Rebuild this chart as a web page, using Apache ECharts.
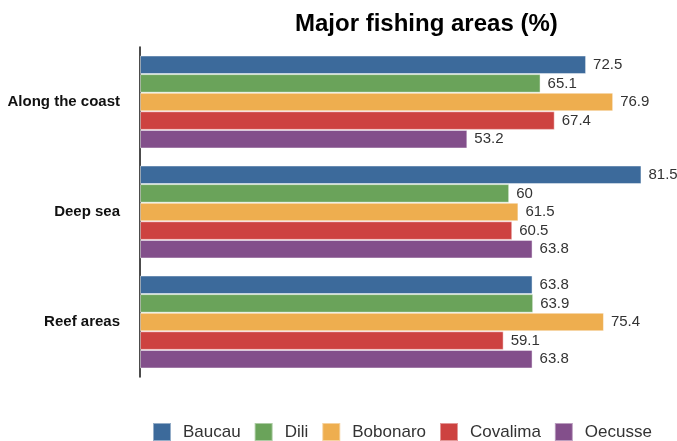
<!DOCTYPE html>
<html>
<head>
<meta charset="utf-8">
<style>
  html, body { margin: 0; padding: 0; background: #ffffff; }
  #chart { width: 677px; height: 441px; }
</style>
<script src="https://cdn.jsdelivr.net/npm/echarts@6/dist/echarts.min.js"></script>
</head>
<body>
<div id="chart"></div>
<script>
// Fishing areas, top to bottom
const categories = ['Along the coast', 'Deep sea', 'Reef areas'];

// Share of respondents (%) by district
const baucau   = [72.5, 81.5, 63.8];
const dili     = [65.1, 60,   63.9];
const bobonaro = [76.9, 61.5, 75.4];
const covalima = [67.4, 60.5, 59.1];
const oecusse  = [53.2, 63.8, 63.8];

const seriesNames  = ['Baucau', 'Dili', 'Bobonaro', 'Covalima', 'Oecusse'];
const seriesValues = [baucau, dili, bobonaro, covalima, oecusse];
const seriesColors = ['#3c6a9b', '#6aa35a', '#eeae4f', '#cd4240', '#834f8b'];

const FONT = '"Liberation Sans", Arial, Helvetica, sans-serif';

const chart = echarts.init(document.getElementById('chart'), null, { renderer: 'canvas' });

chart.setOption({
  backgroundColor: '#ffffff',
  animation: false,
  title: {
    text: 'Major fishing areas (%)',
    left: 290,
    top: 7,
    textStyle: { fontFamily: FONT, fontSize: 24, fontWeight: 'bold', color: '#000' }
  },
  legend: {
    data: seriesNames,
    left: 147,
    top: 417,
    itemWidth: 18,
    itemHeight: 18,
    itemGap: 13,
    icon: 'rect',
    textStyle: { fontFamily: FONT, fontSize: 17, color: '#333', padding: [0, 0, 0, 7] }
  },
  grid: { left: 140, right: 14, top: 47, height: 330, containLabel: false },
  xAxis: {
    type: 'value',
    min: 0,
    max: 85,
    show: false
  },
  yAxis: {
    type: 'category',
    data: categories,
    inverse: true,
    axisLine: { show: true, lineStyle: { color: '#111', width: 1.5 } },
    axisTick: { show: false },
    axisLabel: {
      margin: 20,
      fontFamily: FONT,
      fontSize: 15,
      fontWeight: 'bold',
      color: '#111'
    }
  },
  series: seriesNames.map((name, i) => ({
    name: name,
    type: 'bar',
    data: seriesValues[i],
    barGap: '0%',
    barCategoryGap: '15.5%',
    itemStyle: {
      color: seriesColors[i],
      borderColor: 'rgba(255,255,255,0.45)',
      borderWidth: 1
    },
    label: {
      show: true,
      position: 'right',
      distance: 5,
      fontFamily: FONT,
      fontSize: 15,
      color: '#333',
      backgroundColor: '#ffffff',
      padding: [1, 2, 0, 2]
    }
  }))
});
</script>
</body>
</html>
